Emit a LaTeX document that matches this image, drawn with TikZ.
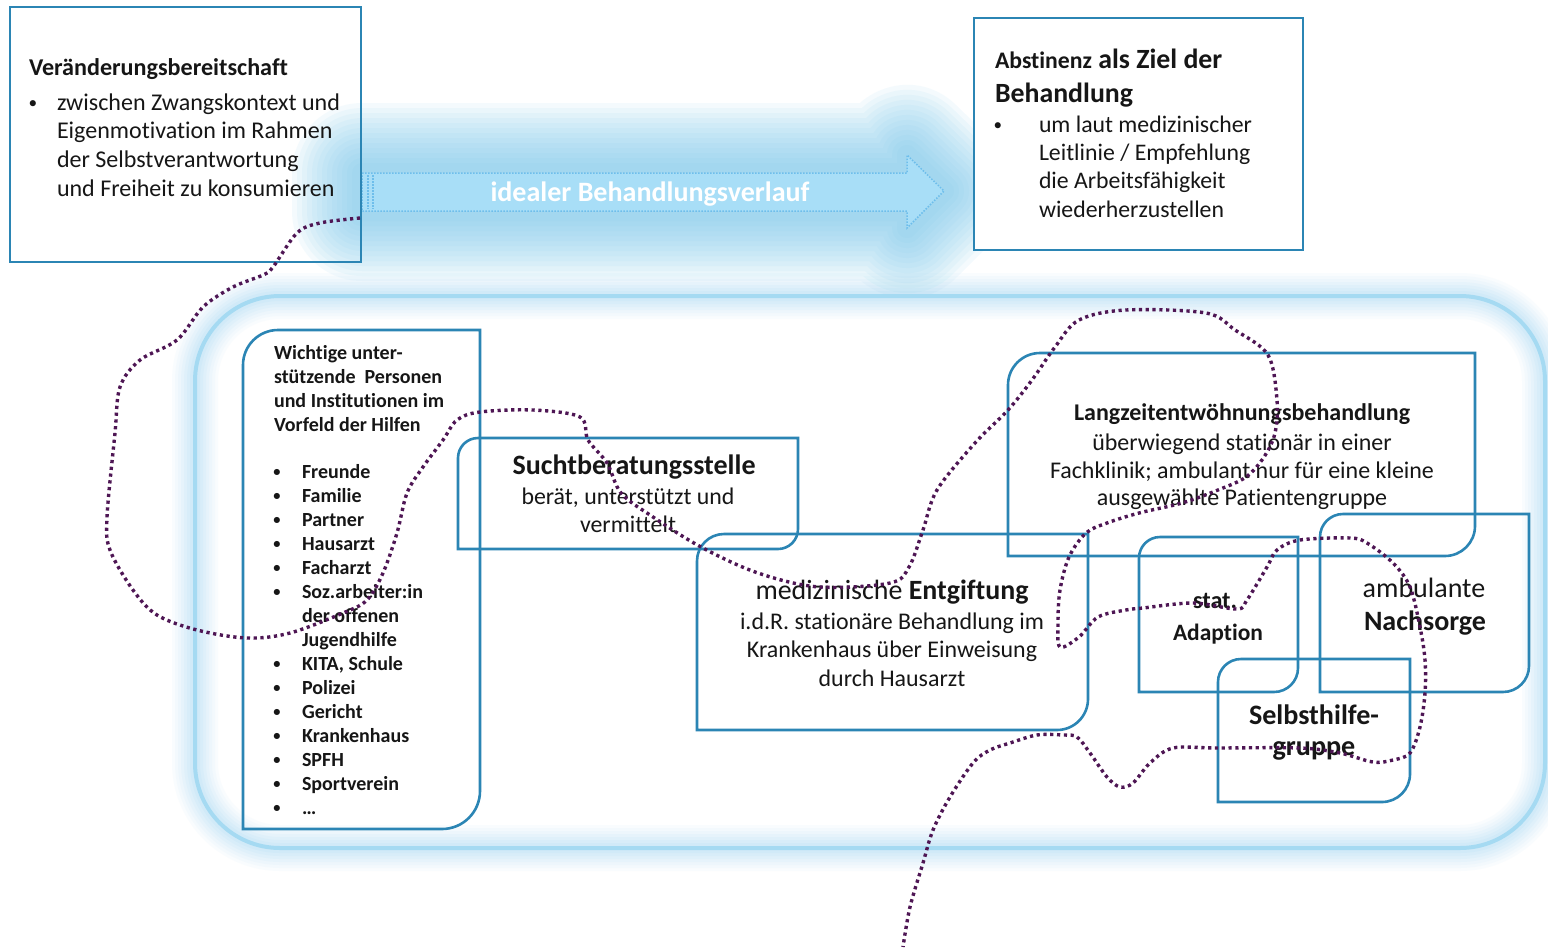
\documentclass[tikz,border=0pt]{standalone}
\usepackage{fontspec}
\setmainfont{Carlito}[Ligatures=NoCommon]
\definecolor{boxblue}{RGB}{43,133,180}
\definecolor{ink}{RGB}{22,22,22}
\definecolor{contc}{RGB}{165,218,242}
\definecolor{glowc}{RGB}{150,210,240}
\definecolor{arrglow}{RGB}{120,200,238}
\definecolor{arrfill}{RGB}{168,222,247}
\definecolor{arrline}{RGB}{110,190,235}
\definecolor{purp}{RGB}{78,22,84}
\newdimen\tmpw
\newcommand\fitfs[3]{\setbox0\hbox{\normalfont\fontsize{10}{12}\selectfont #3}\tmpw=\wd0\relax\pgfmathsetmacro\fitresult{10*#2/\the\tmpw}\global\let#1\fitresult}
\newcommand\smbul{\raisebox{0.08em}{\scalebox{0.72}{•}}}
\AtBeginDocument{%
\fitfs\fsAt{259}{\bfseries Veränderungsbereitschaft}%
\fitfs\fsA{283}{zwischen Zwangskontext und}%
\fitfs\fsBa{97}{\bfseries Abstinenz}%
\fitfs\fsBb{138}{\bfseries Behandlung}%
\fitfs\fsB{213}{um laut medizinischer}%
\fitfs\fsW{170}{\bfseries und Institutionen im}%
\fitfs\fsSt{243}{\bfseries Suchtberatungsstelle}%
\fitfs\fsS{213}{berät, unterstützt und}%
\fitfs\fsEt{273}{medizinische \textbf{Entgiftung}}%
\fitfs\fsE{304}{i.d.R. stationäre Behandlung im}%
\fitfs\fsLt{336}{\bfseries Langzeitentwöhnungsbehandlung}%
\fitfs\fsL{384}{Fachklinik; ambulant nur für eine kleine}%
\fitfs\fsI{319}{\bfseries idealer Behandlungsverlauf}%
\fitfs\fsSa{44}{\bfseries stat.}%
\fitfs\fsAd{90}{\bfseries Adaption}%
\fitfs\fsN{122}{\bfseries Nachsorge}%
\fitfs\fsSh{130}{\bfseries Selbsthilfe-}%
}
\begin{document}
\begin{tikzpicture}[x=1pt,y=-1pt,
  lbl/.style={inner sep=0pt, outer sep=0pt, text=ink},
  lw/.style={lbl, anchor=base west},
  lc/.style={lbl, anchor=base},
  fnt/.style={font=\fontsize{#1}{#1}\selectfont},
  fb/.style={font=\fontsize{#1}{#1}\selectfont\bfseries},
  box/.style={draw=boxblue, line width=2.6pt},
  purpdot/.style={draw=purp, line width=3.4pt, dash pattern=on 3.2pt off 3.6pt},
]
\useasboundingbox (0,0) rectangle (1548,951);
\fill[white] (0,0) rectangle (1548,951);

% glow of the arrow
\foreach \w in {140,130,120,110,100,90,80,70,60,50,40,30,20}{
  \draw[draw=arrglow, line width=\w pt, opacity=0.08, line join=round]
    (362,173) -- (907,173) -- (907,155) -- (944,191) -- (907,228) -- (907,211) -- (362,211) -- cycle;
}
% container glow
\foreach \w/\o in {46/0.05,40/0.05,34/0.06,28/0.07,22/0.08,16/0.09,10/0.1}{
  \draw[draw=glowc, line width=\w pt, opacity=\o, rounded corners=85pt] (195,296) rectangle (1545,848);
}
\draw[draw=contc, line width=4pt, rounded corners=85pt] (195,296) rectangle (1545,848);

% arrow
\fill[arrfill] (362,173) -- (907,173) -- (907,155) -- (944,191) -- (907,228) -- (907,211) -- (362,211) -- cycle;
\draw[arrline, line width=1.5pt, dash pattern=on 1.5pt off 1.5pt]
  (362,173) -- (907,173) -- (907,155) -- (944,191) -- (907,228) -- (907,211) -- (362,211) -- cycle;
\draw[arrline, line width=1.5pt, dash pattern=on 1.5pt off 1.5pt] (368,175) -- (368,209);
\draw[arrline, line width=1.5pt, dash pattern=on 1.5pt off 1.5pt] (373,175) -- (373,209);
\node[lc, fb=\fsI, text=white] (arrtxt) at (650,201) {idealer Behandlungsverlauf};

% top boxes
\draw[box] (10,7) rectangle (361,262);
\filldraw[box, fill=white] (974,18) rectangle (1303,250);

% boxes with rounded top-left and bottom-right corners
\foreach \xa/\ya/\xb/\yb/\ra/\rb in {243/330/480/829/35/38, 458/438/798/549/20/20, 697/534/1088/730/27/31, 1008/353/1475/556/32/30, 1139/537/1298/692/21/24, 1320/514/1529/692/23/26, 1218/659/1410/802/23/28}{
  \draw[box] (\xa,\yb) -- (\xa,{\ya+\ra}) .. controls (\xa,{\ya+0.448*\ra}) and ({\xa+0.448*\ra},\ya) .. ({\xa+\ra},\ya)
    -- (\xb,\ya) -- (\xb,{\yb-\rb}) .. controls (\xb,{\yb-0.448*\rb}) and ({\xb-0.448*\rb},\yb) .. ({\xb-\rb},\yb) -- cycle;
}

% texts box 1
\node[lw, fb=\fsAt] (v0) at (29,75) {Veränderungsbereitschaft};
\node[lc, fnt=\fsA] (vb) at (33,110) {\smbul};
\node[lw, fnt=\fsA] (v1) at (57,110) {zwischen Zwangskontext und};
\node[lw, fnt=\fsA] (v2) at (57,138) {Eigenmotivation im Rahmen};
\node[lw, fnt=\fsA] (v3) at (57,167) {der Selbstverantwortung};
\node[lw, fnt=\fsA] (v4) at (57,196) {und Freiheit zu konsumieren};

% texts box 3
\node[lw] (a0) at (995,68) {\fontsize{\fsBa}{\fsBa}\selectfont\bfseries Abstinenz\fontsize{\fsBb}{\fsBb}\selectfont{} als Ziel der};
\node[lw, fb=\fsBb] (a1) at (995,102) {Behandlung};
\node[lc, fnt=\fsB] (ab) at (998,132) {\smbul};
\node[lw, fnt=\fsB] (a2) at (1039,132) {um laut medizinischer};
\node[lw, fnt=\fsB] (a3) at (1039,160) {Leitlinie / Empfehlung};
\node[lw, fnt=\fsB] (a4) at (1039,188) {die Arbeitsfähigkeit};
\node[lw, fnt=\fsB] (a5) at (1039,217) {wiederherzustellen};

% Wichtige box
\node[lw, fb=\fsW] (w1) at (274,359) {Wichtige unter-};
\node[lw, fb=\fsW] (w2) at (274,383) {stützende\ \ Personen};
\node[lw, fb=\fsW] (w3) at (274,407) {und Institutionen im};
\node[lw, fb=\fsW] (w4) at (274,431) {Vorfeld der Hilfen};
\foreach \t [count=\k from 0] in {Freunde,Familie,Partner,Hausarzt,Facharzt,Soz.arbeiter:in,der offenen,Jugendhilfe,{KITA, Schule},Polizei,Gericht,Krankenhaus,SPFH,Sportverein,…}{
  \node[lw, fb=\fsW] (wi\k) at (302,{478+24*\k}) {\t};
}
\foreach \k in {0,1,2,3,4,5,8,9,10,11,12,13,14}{
  \node[lc, fb=\fsW] (wb\k) at (277,{478+24*\k}) {\smbul};
}

% Suchtberatungsstelle
\node[lc, fb=\fsSt] (s1) at (634,474) {Suchtberatungsstelle};
\node[lc, fnt=\fsS] (s2) at (628,504) {berät, unterstützt und};
\node[lc, fnt=\fsS] (s3) at (628,532) {vermittelt};

% Entgiftung
\node[lc, fnt=\fsEt] (e1) at (892,599) {medizinische \textbf{Entgiftung}};
\node[lc, fnt=\fsE] (e2) at (892,629) {i.d.R. stationäre Behandlung im};
\node[lc, fnt=\fsE] (e3) at (892,657) {Krankenhaus über Einweisung};
\node[lc, fnt=\fsE] (e4) at (892,686) {durch Hausarzt};

% Langzeit
\node[lc, fb=\fsLt] (l1) at (1242,420) {Langzeitentwöhnungsbehandlung};
\node[lc, fnt=\fsL] (l2) at (1242,450) {überwiegend stationär in einer};
\node[lc, fnt=\fsL] (l3) at (1242,478) {Fachklinik; ambulant nur für eine kleine};
\node[lc, fnt=\fsL] (l4) at (1242,505) {ausgewählte Patientengruppe};

% small boxes
\node[lc, fb=\fsSa] (st1) at (1215,608) {stat.};
\node[lc, fb=\fsAd] (st2) at (1218,640) {Adaption};
\node[lc, fnt=\fsN] (n1) at (1424,597) {ambulante};
\node[lc, fb=\fsN] (n2) at (1425,630) {Nachsorge};
\node[lc, fb=\fsSh] (h1) at (1314,724) {Selbsthilfe-};
\node[lc, fb=\fsSh] (h2) at (1314,755) {gruppe};

% dotted path
\draw[purpdot] plot[smooth, tension=0.55] coordinates {
(360,218) (320,223) (297,233) (273,267) (263,275) (233,287) (203,307) (177,340) (140,360) (120,387)
(115,433) (107,517) (110,550) (133,590) (157,615) (197,630) (247,638) (290,633) (343,613) (367,600)
(383,573) (397,533) (407,493) (423,467) (443,440) (457,420) (480,412) (533,410) (580,417) (588,440)
(607,463) (621,493) (650,515) (701,547) (758,573) (819,587) (890,583) (909,567) (923,530) (937,490)
(975,443) (1008,410) (1032,380) (1055,347) (1079,320) (1126,310) (1206,313) (1235,330) (1268,355) (1277,400)
(1275,433) (1264,457) (1246,477) (1218,490) (1182,503) (1139,513) (1107,523) (1086,533) (1069,557) (1060,590)
(1058,623) (1060,647) (1079,637) (1098,617) (1126,610) (1143,608) (1193,603) (1237,609) (1247,600) (1267,567)
(1277,550) (1300,540) (1350,538) (1367,543) (1393,563) (1410,587) (1420,627) (1425,660) (1425,693) (1420,727)
(1410,753) (1393,760) (1373,762) (1340,753) (1300,748) (1217,748) (1173,748) (1150,763) (1133,783) (1120,787)
(1107,777) (1090,753) (1077,737) (1063,735) (1037,735) (1010,743) (990,750) (973,763) (950,797) (933,830)
(923,863) (910,907) (903,947)};
\end{tikzpicture}
\end{document}
